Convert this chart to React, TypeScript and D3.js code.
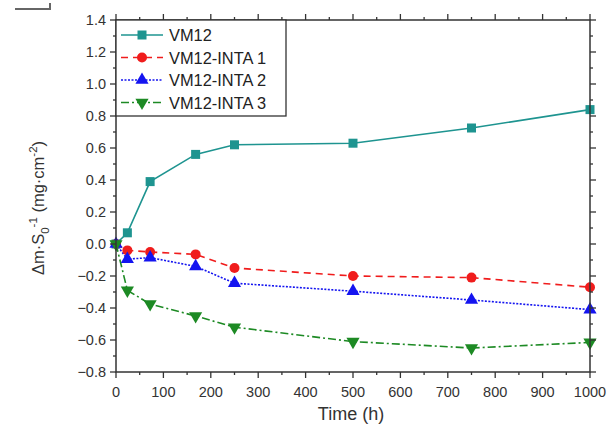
import * as d3 from 'd3'

const hours = [0, 24, 72, 168, 250, 500, 750, 1000]
const vm12 = [0, 0.07, 0.39, 0.56, 0.62, 0.63, 0.725, 0.84]
const inta1 = [0, -0.04, -0.05, -0.065, -0.15, -0.2, -0.21, -0.27]
const inta2 = [0, -0.095, -0.085, -0.14, -0.245, -0.295, -0.35, -0.41]
const inta3 = [0, -0.29, -0.375, -0.45, -0.52, -0.61, -0.65, -0.615]
const seriesNames = ['VM12', 'VM12-INTA 1', 'VM12-INTA 2', 'VM12-INTA 3']
const xTicks = [0, 100, 200, 300, 400, 500, 600, 700, 800, 900, 1000]
const yTicks = [-0.8, -0.6, -0.4, -0.2, 0, 0.2, 0.4, 0.6, 0.8, 1.0, 1.2, 1.4]

const series = [
  { name: seriesNames[0], values: vm12, color: '#1e9490', dash: '', marker: 'square' },
  { name: seriesNames[1], values: inta1, color: '#f01c1c', dash: '7,5', marker: 'circle' },
  { name: seriesNames[2], values: inta2, color: '#1414f0', dash: '2,1.5', marker: 'up' },
  { name: seriesNames[3], values: inta3, color: '#1d8a24', dash: '8,3,2,3', marker: 'down' },
]

function Marker({ kind, x, y, color }: { kind: string; x: number; y: number; color: string }) {
  if (kind === 'square') return <rect x={x - 4.5} y={y - 4.5} width={9} height={9} fill={color} />
  if (kind === 'circle') return <circle cx={x} cy={y} r={5} fill={color} />
  const t = d3.symbol(d3.symbolTriangle, 75)() as string
  return <path d={t} fill={color} transform={`translate(${x},${y})${kind === 'down' ? ' rotate(180)' : ''}`} />
}

export default function App() {
  const W = 609, H = 427
  const m = { left: 116, right: 590, top: 20, bottom: 372 }
  const x = d3.scaleLinear().domain([0, 1000]).range([m.left, m.right])
  const y = d3.scaleLinear().domain([-0.8, 1.4]).range([m.bottom, m.top])
  const line = d3.line<[number, number]>().x(d => x(d[0])).y(d => y(d[1]))
  const xMinor = d3.range(50, 1000, 100)
  const yMinor = d3.range(-0.7, 1.4, 0.2)
  const axisColor = '#333'
  const font = 'Liberation Sans, Arial, sans-serif'

  return (
    <svg width={W} height={H} style={{ position: 'absolute', left: 0, top: 0, background: '#fff' }} fontFamily={font}>
      <rect width={W} height={H} fill="#fff" />
      <path d="M15,9 H50 V3" fill="none" stroke="#666" strokeWidth={2} />
      {/* series lines */}
      {series.map(s => (
        <path key={s.name} d={line(hours.map((h, i) => [h, s.values[i]]) as [number, number][]) as string}
          fill="none" stroke={s.color} strokeWidth={1.6} strokeDasharray={s.dash} />
      ))}
      {series.map(s => hours.map((h, i) => (
        <Marker key={s.name + h} kind={s.marker} x={x(h)} y={y(s.values[i])} color={s.color} />
      )))}
      {/* frame */}
      <rect x={m.left} y={m.top} width={m.right - m.left} height={m.bottom - m.top} fill="none" stroke={axisColor} strokeWidth={1.5} />
      {/* x ticks */}
      {xTicks.map(t => (
        <g key={'x' + t}>
          <line x1={x(t)} x2={x(t)} y1={m.bottom} y2={m.bottom + 6} stroke={axisColor} strokeWidth={1.3} />
          <line x1={x(t)} x2={x(t)} y1={m.top} y2={m.top - 6} stroke={axisColor} strokeWidth={1.3} />
          <text x={x(t)} y={m.bottom + 25} textAnchor="middle" fontSize={14.5} fill="#333">{t}</text>
        </g>
      ))}
      {xMinor.map(t => (
        <g key={'xm' + t}>
          <line x1={x(t)} x2={x(t)} y1={m.bottom} y2={m.bottom + 3} stroke={axisColor} strokeWidth={1.3} />
          <line x1={x(t)} x2={x(t)} y1={m.top} y2={m.top - 3} stroke={axisColor} strokeWidth={1.3} />
        </g>
      ))}
      {/* y ticks */}
      {yTicks.map(t => (
        <g key={'y' + t}>
          <line x1={m.left} x2={m.left - 6} y1={y(t)} y2={y(t)} stroke={axisColor} strokeWidth={1.3} />
          <line x1={m.right} x2={m.right + 6} y1={y(t)} y2={y(t)} stroke={axisColor} strokeWidth={1.3} />
          <text x={m.left - 10} y={y(t) + 5} textAnchor="end" fontSize={14.5} fill="#333">{d3.format('.1f')(t)}</text>
        </g>
      ))}
      {yMinor.map(t => (
        <g key={'ym' + t}>
          <line x1={m.left} x2={m.left - 3} y1={y(t)} y2={y(t)} stroke={axisColor} strokeWidth={1.3} />
          <line x1={m.right} x2={m.right + 3} y1={y(t)} y2={y(t)} stroke={axisColor} strokeWidth={1.3} />
        </g>
      ))}
      {/* axis titles */}
      <text x={(m.left + m.right) / 2 - 2} y={420} textAnchor="middle" fontSize={18} fill="#333">Time (h)</text>
      <text transform={`translate(44,${(m.top + m.bottom) / 2 + 12}) rotate(-90)`} textAnchor="middle" fontSize={16.5} fill="#333">
        Δm·S<tspan dy={5} fontSize={11.5}>0</tspan><tspan dy={-12} fontSize={11.5}>-1</tspan><tspan dy={7}> (mg·cm</tspan><tspan dy={-7} fontSize={11.5}>-2</tspan><tspan dy={7}>)</tspan>
      </text>
      {/* legend */}
      <rect x={m.left} y={m.top} width={170} height={96} fill="#fff" stroke={axisColor} strokeWidth={1.3} />
      {series.map((s, i) => {
        const ly = 35 + i * 22.5
        return (
          <g key={'lg' + s.name}>
            <line x1={121} x2={163} y1={ly} y2={ly} stroke={s.color} strokeWidth={1.6} strokeDasharray={s.dash} />
            <Marker kind={s.marker} x={142} y={ly} color={s.color} />
            <text x={169} y={ly + 6} fontSize={16.4} fill="#222">{s.name}</text>
          </g>
        )
      })}
    </svg>
  )
}
